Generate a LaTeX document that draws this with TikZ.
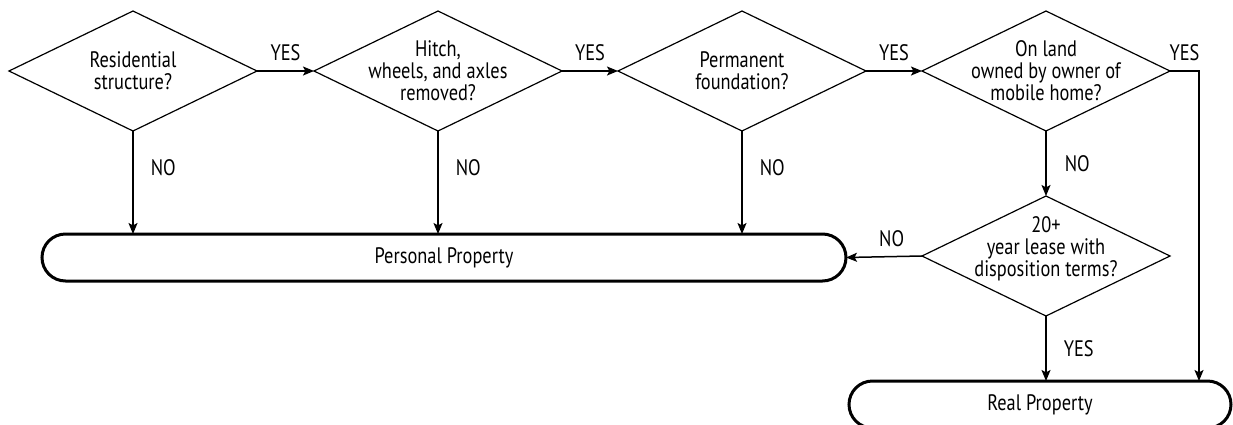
\documentclass[tikz,border=0pt]{standalone}
\usepackage{fontspec}
\setmainfont{PT Sans}[FakeStretch=0.82]
\usetikzlibrary{arrows.meta,positioning,calc,shapes.geometric,shapes.misc}

\begin{document}
\begin{tikzpicture}[
    x=0.5pt, y=-0.5pt,
    decision/.style={diamond, draw=black, line width=0.6pt, minimum width=124pt,
                     minimum height=60pt, inner sep=0pt, outer sep=0pt},
    dtext/.style={align=center, inner sep=0pt, font=\fontsize{11.2}{11}\selectfont},
    term/.style={rounded rectangle, draw=black, line width=1.5pt, minimum height=23.5pt,
                 inner sep=0pt, outer sep=0pt, font=\fontsize{11.2}{12}\selectfont},
    flow/.style={-{Stealth[length=5.5pt,width=4.5pt,inset=1.2pt]}, line width=0.75pt},
    lbl/.style={inner sep=0pt, font=\fontsize{11.2}{12}\selectfont}
]
\useasboundingbox (0,0) rectangle (1233,424);
% decisions along the top row
\node[decision] (d1) at (133,71) {};
\node[decision] (d2) at (438,71) {};
\node[decision] (d3) at (742,71) {};
\node[decision] (d4) at (1046,71) {};
\node[decision] (d5) at (1046,256) {};
\node[dtext] (t1) at (d1) {Residential\\structure?};
\node[dtext] (t2) at (d2) {Hitch,\\wheels, and axles\\removed?};
\node[dtext] (t3) at (d3) {Permanent\\foundation?};
\node[dtext] (t4) at (d4) {On land\\owned by owner of\\mobile home?};
\node[dtext] (t5) at (1046,249) {20+\\year lease with\\disposition terms?};
% outcomes
\node[term, minimum width=402pt] (pp) at (444,257.5) {Personal Property};
\node[term, minimum width=191pt] (rp) at (1040,404.5) {Real Property};
\coordinate (c4) at (1199,71);
% connectors
\draw[flow] (d1.east) -- node[lbl, above=4.5pt] {YES} (d2.west);
\draw[flow] (d2.east) -- node[lbl, above=4.5pt] {YES} (d3.west);
\draw[flow] (d3.east) -- node[lbl, above=4.5pt] {YES} (d4.west);
\draw[flow] (d4.east) -- node[lbl, above=4.5pt] {YES} (c4) -- (c4 |- rp.north);
\draw[flow] (d1.south) -- node[lbl, right=8.5pt, pos=0.36] {NO} (d1.south |- pp.north);
\draw[flow] (d2.south) -- node[lbl, right=8.5pt, pos=0.36] {NO} (d2.south |- pp.north);
\draw[flow] (d3.south) -- node[lbl, right=8.5pt, pos=0.36] {NO} (d3.south |- pp.north);
\draw[flow] (d4.south) -- node[lbl, right=9pt] {NO} (d5.north);
\draw[flow] (d5.west) -- node[lbl, above=4.5pt, pos=0.4] {NO} (pp.east);
\draw[flow] (d5.south) -- node[lbl, right=8.5pt] {YES} (d5.south |- rp.north);
\end{tikzpicture}
\end{document}
